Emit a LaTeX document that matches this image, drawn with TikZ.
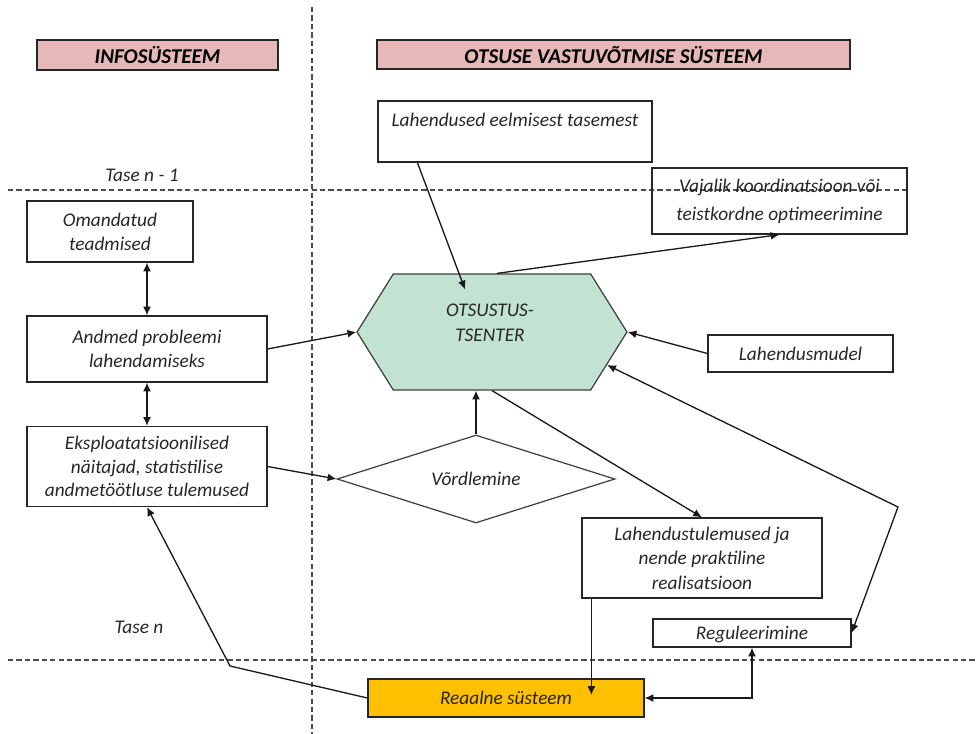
\documentclass[tikz,border=0pt]{standalone}
\usepackage{fontspec}
\setmainfont{Carlito}
\usetikzlibrary{shapes.geometric,shapes.symbols,arrows.meta}

\definecolor{headpink}{HTML}{E6B9B8}
\definecolor{centergreen}{HTML}{C2E3D1}
\definecolor{realorange}{HTML}{FFC000}

\tikzset{
  txt/.style={font=\itshape\fontsize{11}{13.5}\selectfont, text=black!85, align=center},
  box/.style={txt, draw=black!85, line width=0.7pt, inner sep=2pt},
  head/.style={box, fill=headpink, font=\bfseries\itshape\fontsize{12}{14}\selectfont, text=black},
  level/.style={draw=black!70, line width=0.6pt, dash pattern=on 3pt off 1.8pt},
  link/.style={line width=0.75pt, draw=black!90},
}

\begin{document}
\begin{tikzpicture}[x=0.02cm, y=-0.02cm, >={Latex[length=5pt,width=4.5pt]}]
    \useasboundingbox (0,0) rectangle (978,734);
      % levels and the two systems
      \draw[level] (312,7) -- (312,734);
      \draw[level] (8,190) -- (908,190);
      \draw[level] (8,660) -- (975,660);
      \node[txt] (tasen1) at (142,175) {Tase n - 1};
      \node[txt] (tasen) at (139,627) {Tase n};
      \node[head, minimum width=4.82cm, minimum height=0.6cm] (info) at (157.5,55) {INFOSÜSTEEM};
      \node[head, minimum width=9.46cm, minimum height=0.58cm] (otsus) at (613.5,54.5) {OTSUSE VASTUVÕTMISE SÜSTEEM};

      % left column
      \node[box, minimum width=3.32cm, minimum height=1.22cm] (omand) at (110,231.5) {Omandatud\\teadmised};
      \node[box, minimum width=4.8cm, minimum height=1.32cm] (andmed) at (147,349) {Andmed probleemi\\lahendamiseks};
      \node[box, minimum width=4.8cm, minimum height=1.6cm] (ekspl) at (147,466.5) {Eksploatatsioonilised\\näitajad, statistilise\\andmetöötluse tulemused};

      % decision centre
      \node[signal, signal to=east and west, signal pointer angle=116, draw=black!75, fill=centergreen, line width=0.7pt,
            minimum width=5.4cm, minimum height=2.32cm, inner sep=0pt] (centre) at (492,332) {};
      \node[txt, font=\itshape\fontsize{11}{14}\selectfont] (centretxt) at (490,323) {OTSUSTUS-\\TSENTER};
      \node[box, minimum width=5.48cm, minimum height=1.22cm,
            label={[txt, anchor=north, yshift=-0.12cm]north:Lahendused eelmisest tasemest}] (eelm) at (515,131.5) {};
      \node[box, minimum width=5.1cm, minimum height=1.32cm] (vajalik) at (779.5,201) {Vajalik koordinatsioon või\\[2.5pt]teistkordne optimeerimine};
      \node[box, minimum width=3.7cm, minimum height=0.74cm] (lahmudel) at (800.5,353.5) {Lahendusmudel};
      \node[diamond, txt, draw=black!75, line width=0.7pt, aspect=3.16, minimum width=5.56cm, minimum height=1.76cm,
            inner sep=0pt] (vord) at (476,479) {Võrdlemine};
      \node[box, minimum width=4.8cm, minimum height=1.6cm, font=\itshape\fontsize{11}{14}\selectfont] (lahtul) at (702,558) {Lahendustulemused ja\\nende praktiline\\realisatsioon};
      \node[box, minimum width=3.96cm, minimum height=0.56cm, text depth=-1pt] (reg) at (752,633) {Reguleerimine};
      \node[box, fill=realorange, minimum width=5.52cm, minimum height=0.76cm] (reaal) at (506,698) {Reaalne süsteem};

      \coordinate (bendL) at (230,666);
      \coordinate (bendR) at (898,507);

      % connections
      \draw[link,<->] (andmed.north |- omand.south) -- (andmed.north);
      \draw[link,<->] (andmed.south) -- (ekspl.north);
      \draw[link,->] (andmed.east) -- (centre.west);
      \draw[link,->] (ekspl.east) -- (vord.west);
      \draw[link,->] (vord.north) -- (vord.north |- centre.south);
      \draw[link,->] ([xshift=0.8cm]eelm.south west) -- ([xshift=-0.54cm,yshift=-0.32cm]centre.north);
      \draw[link,->] ([xshift=0.1cm]centre.north) -- (vajalik.south);
      \draw[link,->] (lahmudel.west) -- (centre.east);
      \draw[link,->] (centre.south) -- (lahtul.north);
      \draw[link,<->] (centre.-16) -- (bendR) -- (reg.east);
      \draw[link,->] ([xshift=0.2cm]lahtul.south west) -- ([xshift=0.2cm,yshift=0.06cm]lahtul.south west |- reaal.center);
      \draw[link,<->] (reaal.east) -| (reg.south);
      \draw[link,->] (reaal.west) -- (bendL) -- (ekspl.south);
    \end{tikzpicture}
\end{document}
